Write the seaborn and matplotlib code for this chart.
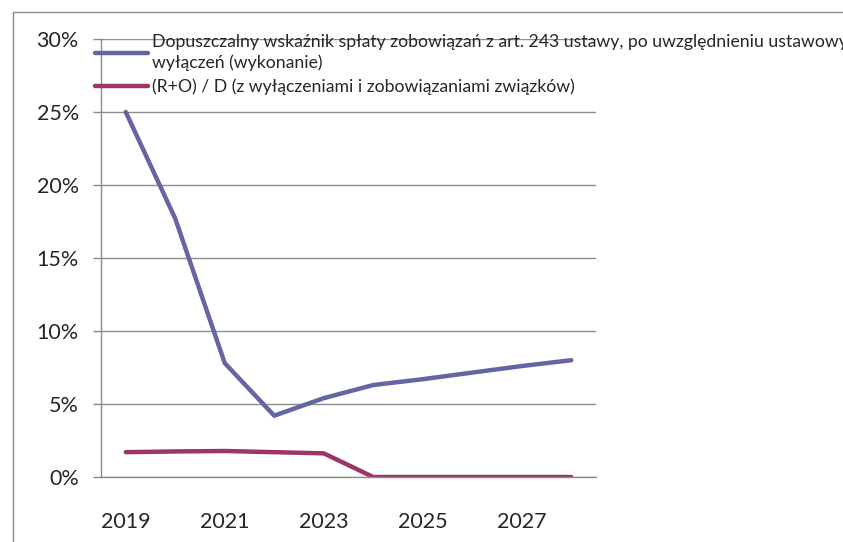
import pandas as pd
import seaborn as sns
import matplotlib.pyplot as plt
from matplotlib.lines import Line2D
from matplotlib.ticker import FixedLocator, FuncFormatter

# Data (values in %)
years = [2019, 2020, 2021, 2022, 2023, 2024, 2025, 2026, 2027, 2028]
limit_share = [25.0, 17.7, 7.8, 4.2, 5.4, 6.3, 6.7, 7.15, 7.6, 8.0]
actual_share = [1.7, 1.75, 1.78, 1.7, 1.62, 0.0, 0.0, 0.0, 0.0, 0.0]
series_names = [
    'Dopuszczalny wskaźnik spłaty zobowiązań z art. 243 ustawy, po uwzględnieniu ustawowych\nwyłączeń (wykonanie)',
    '(R+O) / D (z wyłączeniami i zobowiązaniami związków)',
]
label_years = [2019, 2021, 2023, 2025, 2027]
colors = ['#6465A2', '#9C3468']

df = pd.concat([
    pd.DataFrame({'Rok': years, 'Wartość': limit_share, 'Seria': series_names[0]}),
    pd.DataFrame({'Rok': years, 'Wartość': actual_share, 'Seria': series_names[1]}),
])

sns.set_style('white')
plt.rcParams['font.family'] = ['Lato', 'DejaVu Sans']

fig = plt.figure(figsize=(8.43, 5.42), dpi=100)
ax = fig.add_axes([101 / 843, 65 / 542, 495 / 843, 438 / 542])

sns.lineplot(data=df, x='Rok', y='Wartość', hue='Seria', palette=dict(zip(series_names, colors)),
             linewidth=3.2, ax=ax, legend=False)

ax.set_xlim(years[0] - 0.5, years[-1] + 0.5)
ax.set_ylim(0, 30)
ax.set_xlabel('')
ax.set_ylabel('')

# y axis: gridlines every 5%
ax.yaxis.set_major_locator(FixedLocator([0, 5, 10, 15, 20, 25, 30]))
ax.yaxis.set_major_formatter(FuncFormatter(lambda v, p: f'{v:.0f}%'))
ax.grid(axis='y', color='#8c8c8c', linewidth=1)
ax.set_axisbelow(True)

# x axis: labels at category centres, tick marks between categories
ax.xaxis.set_major_locator(FixedLocator(label_years))
ax.xaxis.set_minor_locator(FixedLocator([y - 0.5 for y in years] + [years[-1] + 0.5]))
ax.tick_params(axis='x', which='major', length=0, pad=25, labelsize=15.5)
ax.tick_params(axis='x', which='minor', length=7, width=1, color='#8c8c8c', direction='out')
ax.tick_params(axis='y', which='major', length=6, width=1, color='#8c8c8c', direction='out',
               pad=10, labelsize=15.5, left=True)

for side in ['top', 'right']:
    ax.spines[side].set_visible(False)
for side in ['left', 'bottom']:
    ax.spines[side].set_color('#8c8c8c')
    ax.spines[side].set_linewidth(1)

handles = [Line2D([], [], color=c, linewidth=3.2) for c in colors]
leg = fig.legend(handles, series_names, loc='upper left', bbox_to_anchor=(88 / 843, 1 - 27 / 542),
                 frameon=False, fontsize=12.7, handlelength=3.0, handletextpad=0.2,
                 labelspacing=0.4, borderaxespad=0)
for t in leg.get_texts():
    t.set_linespacing(1.35)

# chart area border (cropped at right and bottom)
fig.add_artist(Line2D([13 / 843, 1], [1 - 12 / 542, 1 - 12 / 542], color='#8c8c8c', linewidth=1))
fig.add_artist(Line2D([13 / 843, 13 / 843], [0, 1 - 12 / 542], color='#8c8c8c', linewidth=1))

fig.savefig('out.png', dpi=100)
